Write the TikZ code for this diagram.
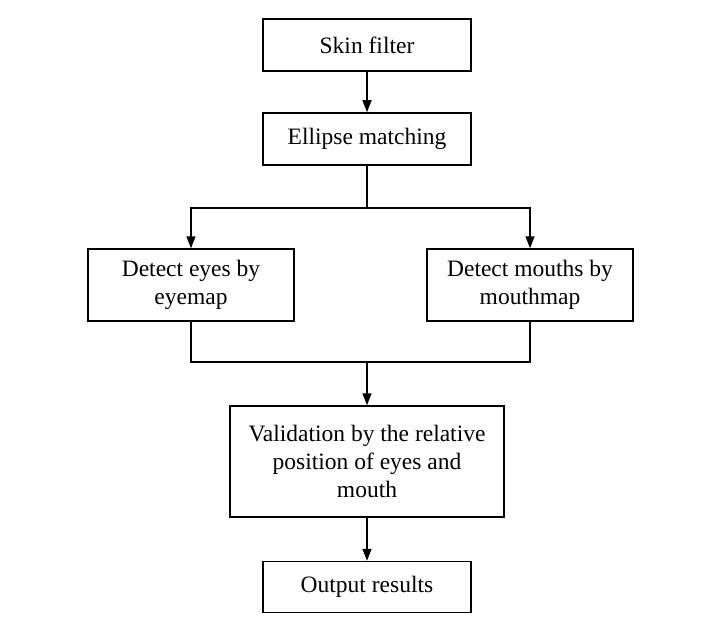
\documentclass[tikz,border=0pt]{standalone}
\usepackage{fontspec}
\setmainfont{Liberation Serif}
\usetikzlibrary{arrows.meta}
\tikzset{
  box/.style={draw=black, line width=1.5bp, inner sep=0pt, align=center,
    font=\fontsize{23.5bp}{28bp}\selectfont},
  link/.style={draw=black, line width=1.5bp},
  arrowlink/.style={link, -{Triangle[length=12bp,width=9bp]}},
}
\begin{document}
\begin{tikzpicture}[x=1bp, y=-1bp]
  \useasboundingbox (0,0) rectangle (724,632);

  \node[box, minimum width=208bp, minimum height=52bp] (skin) at (367,45) {Skin filter};
  \node[box, minimum width=208bp, minimum height=52bp] (ellipse) at (367,139) {Ellipse matching};
  \node[box, minimum width=206bp, minimum height=72bp] (eyes) at (191,285) {Detect eyes by\\eyemap};
  \node[box, minimum width=206bp, minimum height=72bp] (mouths) at (530,285) {Detect mouths by\\mouthmap};
  \node[box, minimum width=274bp, minimum height=111bp] (valid) at (367,461.5)
    {Validation by the relative\\position of eyes and\\mouth};
  \node[box, minimum width=208bp, minimum height=51bp] (output) at (367,587) {Output results};

  \coordinate (split) at (367,208);
  \coordinate (merge) at (367,362);

  \draw[arrowlink] (skin.south) -- (ellipse.north);
  \draw[link] (ellipse.south) -- (split);
  \draw[arrowlink] (split) -| (eyes.north);
  \draw[arrowlink] (split) -| (mouths.north);
  \draw[link] (eyes.south) |- (merge);
  \draw[link] (mouths.south) |- (merge);
  \draw[arrowlink] (merge) -- (valid.north);
  \draw[arrowlink] (valid.south) -- (output.north);
\end{tikzpicture}
\end{document}
